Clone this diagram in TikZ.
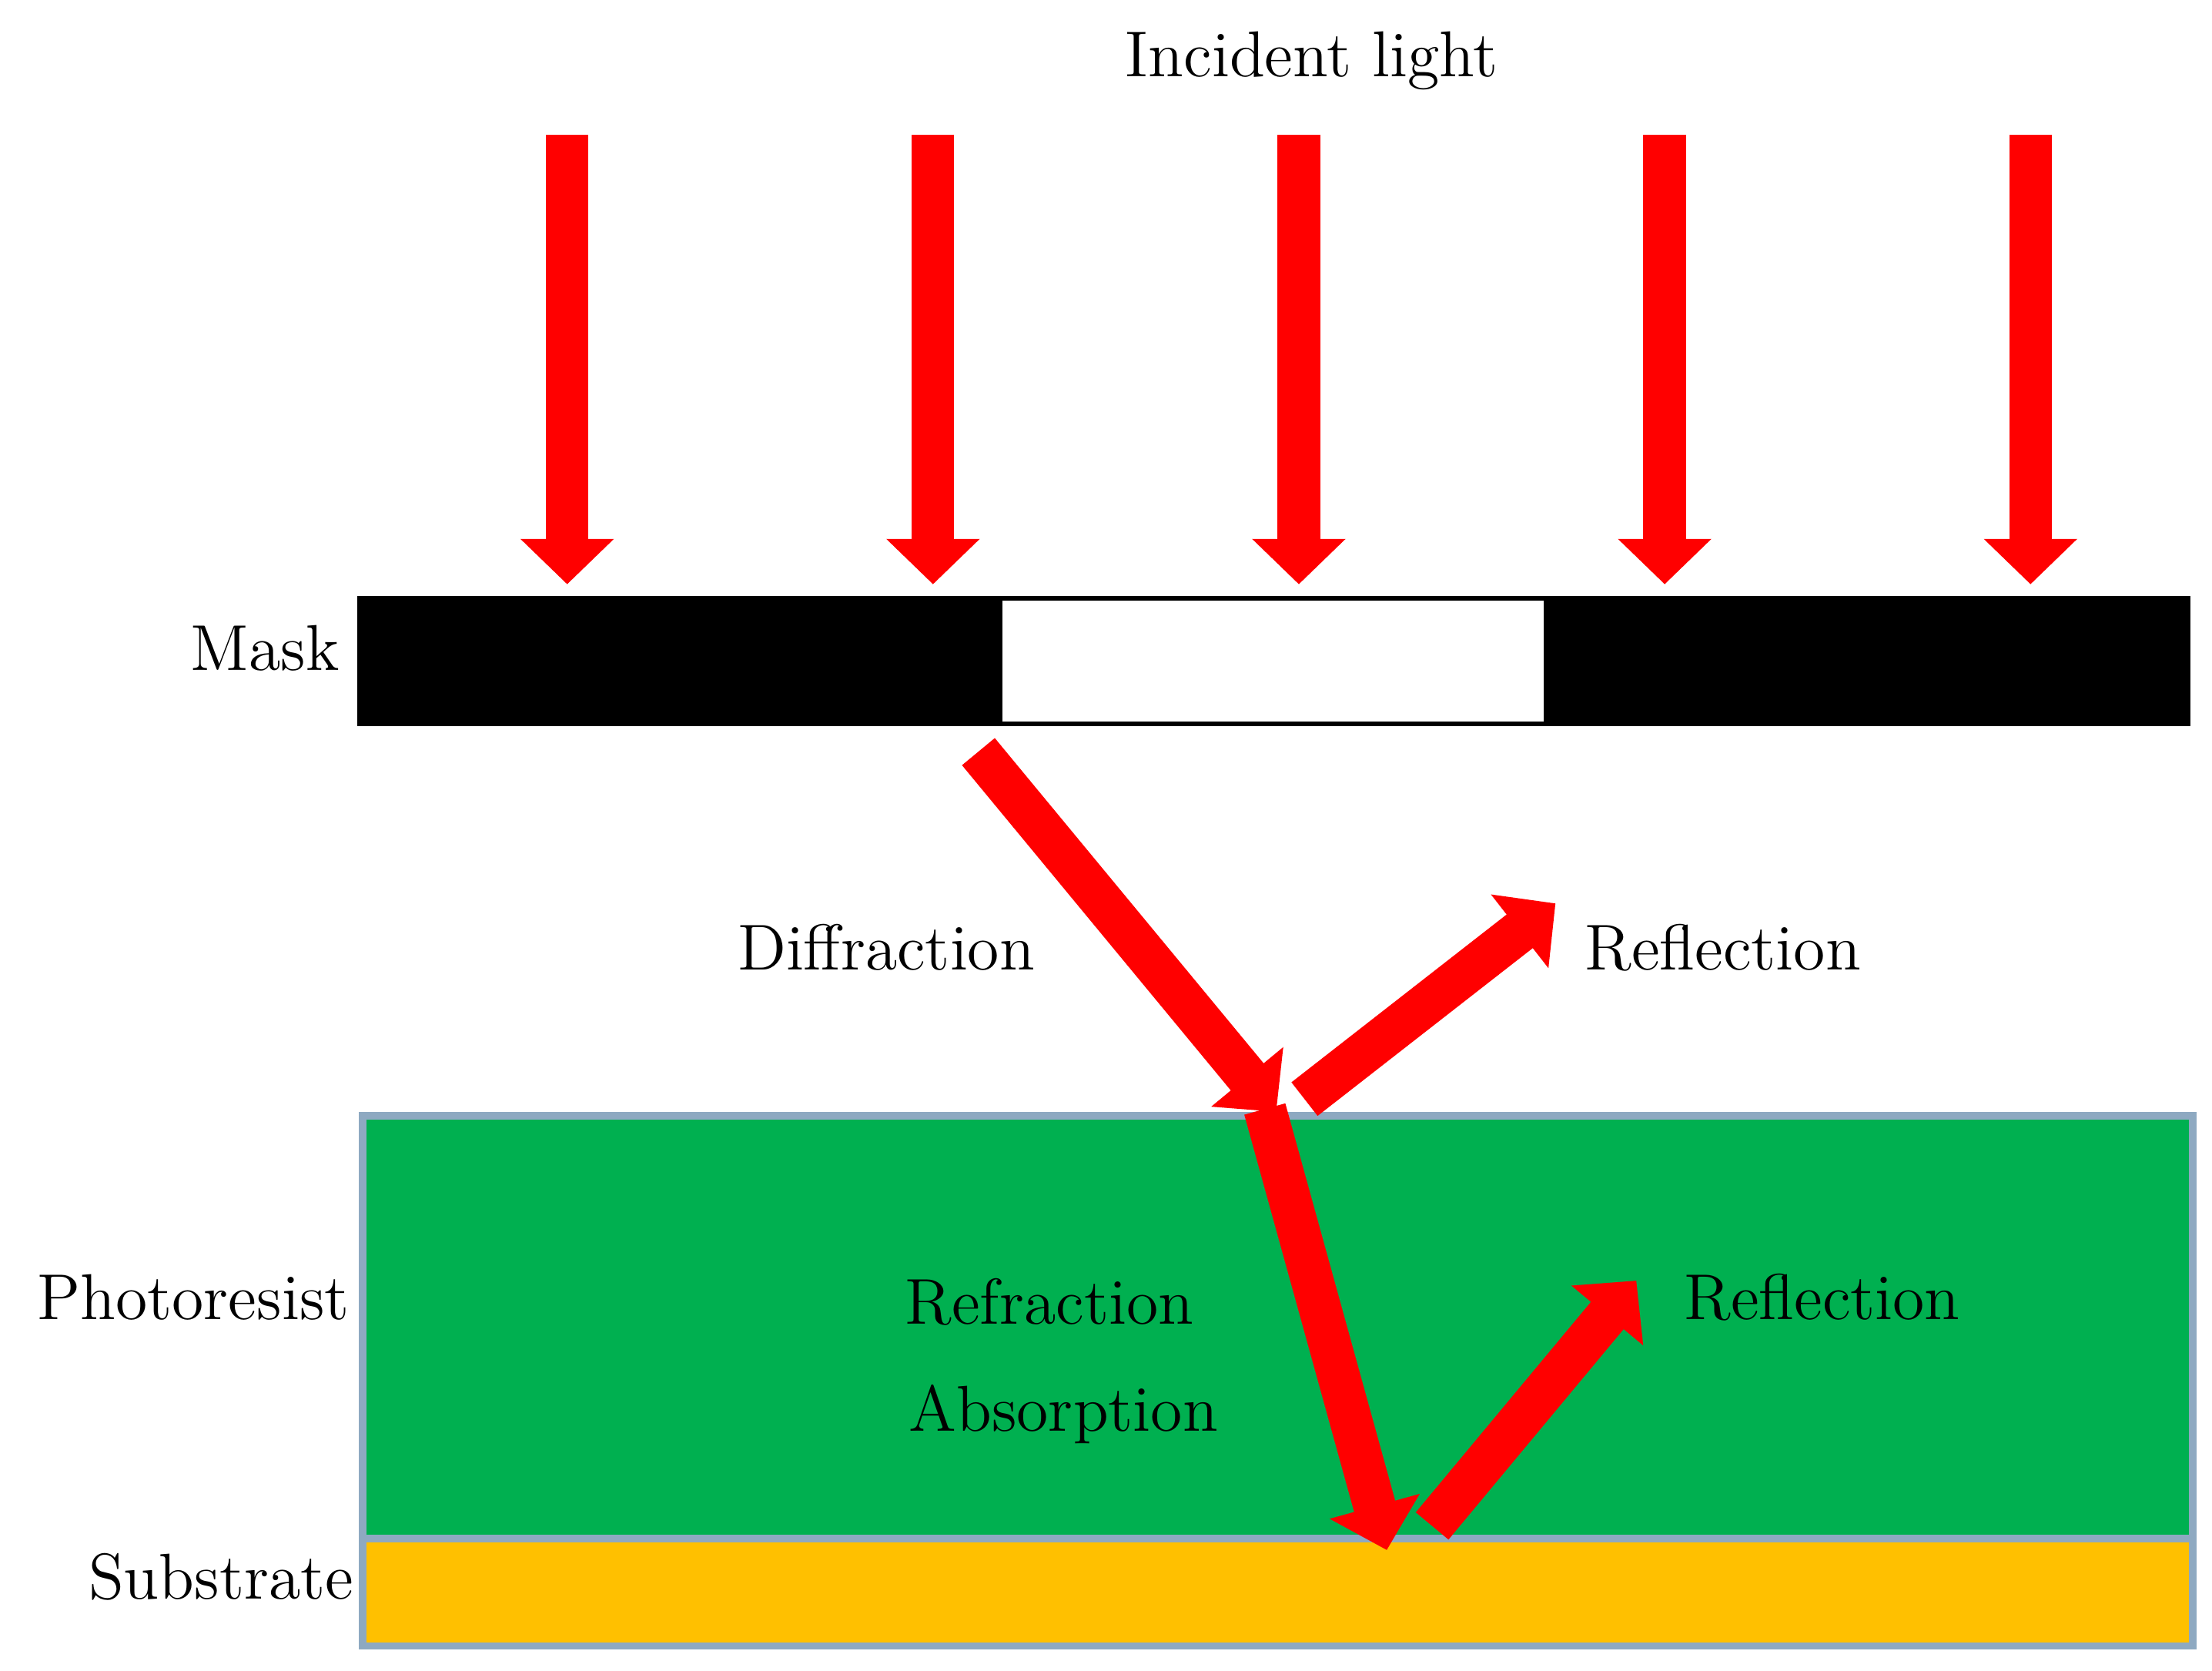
\documentclass[tikz,border=0pt]{standalone}
\usetikzlibrary{arrows.meta}
\definecolor{pgreen}{HTML}{00B050}
\definecolor{sorange}{HTML}{FFC000}
\definecolor{edgeb}{HTML}{8EA9C1}
\begin{document}
\begin{tikzpicture}[x=0.01cm,y=-0.01cm,
  ray/.style={draw=red,line width=0.3cm,-{Triangle[width=0.64cm,length=0.32cm]}},
  lab/.style={font=\fontsize{13}{15}\selectfont,inner sep=0pt}]
\useasboundingbox (0,0) rectangle (1560,1178);
\fill[white] (0,0) rectangle (1560,1178);
% layers
\node[draw=edgeb,line width=1.5pt,fill=sorange,minimum width=12.9cm,minimum height=0.76cm,inner sep=0,anchor=north west] (sub) at (253,1082) {};
\node[draw=edgeb,line width=1.5pt,fill=pgreen,minimum width=12.9cm,minimum height=2.98cm,inner sep=0,anchor=north west] (pr) at (253,784) {};
\fill (252,420) rectangle (1545,512);
\node[fill=white,minimum width=3.82cm,minimum height=0.85cm,inner sep=0,anchor=north west] (win) at (706,423) {};
% incident
\node[lab] (inc) at (925,43) {Incident light};
\foreach \x [count=\i] in {400,658,916,1174,1432}{
  \coordinate (s\i) at (\x,95); \coordinate (e\i) at (\x,412);
  \draw[ray] (s\i) -- (e\i);}
% rays
\coordinate (d1) at (690,530); \coordinate (d2) at (900,784);
\coordinate (r1) at (920,775); \coordinate (r2) at (1097,637);
\coordinate (f1) at (892,782); \coordinate (f2) at (978,1093);
\coordinate (q1) at (1010,1076); \coordinate (q2) at (1154,903);
\draw[ray] (d1) -- (d2);
\draw[ray] (r1) -- (r2);
\draw[ray] (f1) -- (f2);
\draw[ray] (q1) -- (q2);
% labels
\node[lab,anchor=east] (mask) at (240,457) {Mask};
\node[lab,anchor=east] (phl) at (247,915) {Photoresist};
\node[lab,anchor=east] (sbl) at (250,1112) {Substrate};
\node[lab] (dif) at (625,668) {Diffraction};
\node[lab] (ref1) at (1215,668) {Reflection};
\node[lab] (refr) at (740,918) {Refraction};
\node[lab] (abs) at (750,997) {Absorption};
\node[lab] (ref2) at (1285,915) {Reflection};
\end{tikzpicture}
\end{document}
